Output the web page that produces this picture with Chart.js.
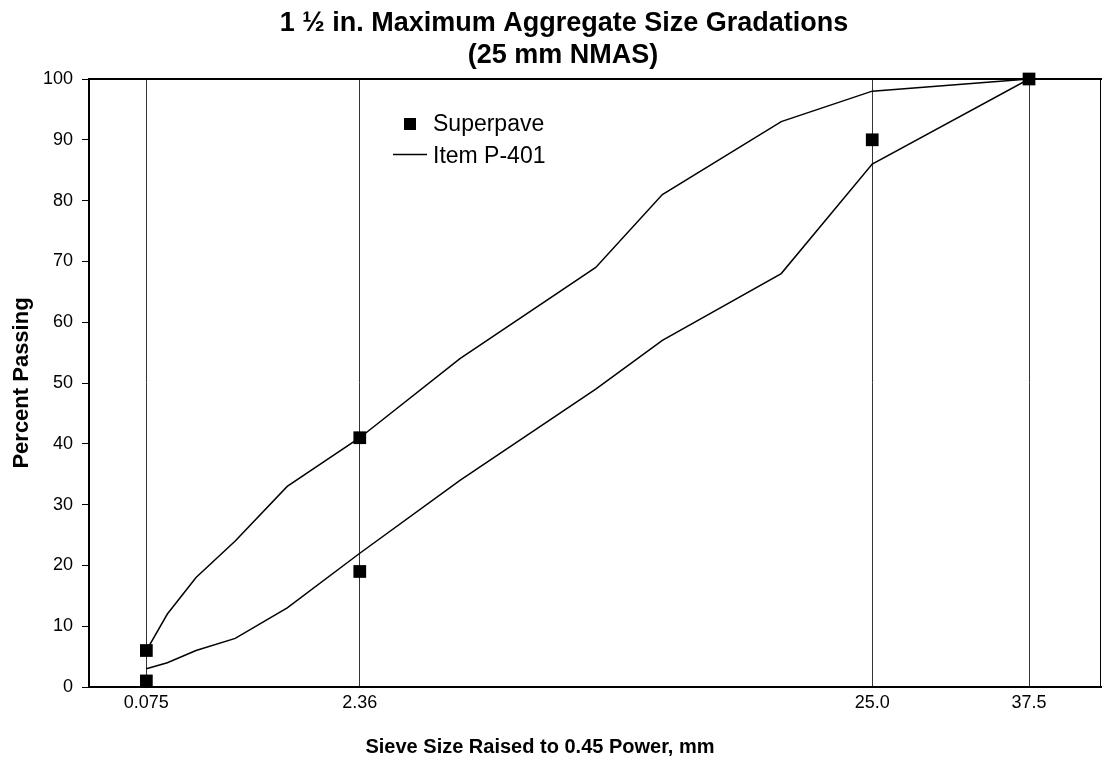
<!DOCTYPE html>
<html>
<head>
<meta charset="utf-8">
<title>Aggregate Size Gradations</title>
<script src="https://cdn.jsdelivr.net/npm/chart.js@4.4.0/dist/chart.umd.min.js"></script>
<style>
  html, body { margin: 0; padding: 0; background: #fff; overflow: hidden; }
  canvas { display: block; }
</style>
</head>
<body>
<canvas id="gradChart" width="1102" height="761"></canvas>
<script>
// Sieve sizes (mm) and Item P-401 gradation band, percent passing
const sieveSizes = [0.075, 0.15, 0.3, 0.6, 1.18, 2.36, 4.75, 9.5, 12.5, 19.0, 25.0, 37.5];
const p401Upper = [6, 12, 18, 24, 33, 41, 54, 69, 81, 93, 98, 100];
const p401Lower = [3, 4, 6, 8, 13, 22, 34, 49, 57, 68, 86, 100];

// Superpave control points
const controlSizes = [0.075, 0.075, 2.36, 2.36, 25.0, 37.5];
const controlPassing = [1, 6, 19, 41, 90, 100];

// Labelled sieves on the x axis
const tickSizes = [0.075, 2.36, 25.0, 37.5];
const tickLabels = ["0.075", "2.36", "25.0", "37.5"];

const FONT = "'Liberation Sans', Arial, sans-serif";
const POWER = 0.45;

// x axis is sieve size raised to the 0.45 power
const toX = size => Math.pow(size, POWER);
const points = (sizes, values) => sizes.map((s, i) => ({ x: toX(s), y: values[i] }));

// Frame (top/right edges), titles and the in-plot legend
const decorations = {
    id: "decorations",
    beforeDatasetsDraw(chart) {
        const { ctx, chartArea: a } = chart;
        ctx.save();
        ctx.strokeStyle = "#000";
        ctx.lineWidth = 2;
        ctx.beginPath();
        ctx.moveTo(a.left - 1, a.top);
        ctx.lineTo(a.right + 1, a.top);
        ctx.stroke();
        ctx.lineWidth = 1;
        ctx.beginPath();
        ctx.moveTo(a.right - 0.5, a.top);
        ctx.lineTo(a.right - 0.5, a.bottom);
        ctx.stroke();
        ctx.restore();
    },
    afterDraw(chart) {
        const ctx = chart.ctx;
        ctx.save();
        ctx.fillStyle = "#000";
        ctx.textAlign = "center";
        ctx.textBaseline = "alphabetic";

        ctx.font = "bold 27px " + FONT;
        ctx.fillText("1 \u00bd in. Maximum Aggregate Size Gradations", 564, 31);
        ctx.fillText("(25 mm NMAS)", 563, 63);

        ctx.font = "bold 20px " + FONT;
        ctx.fillText("Sieve Size Raised to 0.45 Power, mm", 540, 753);

        ctx.save();
        ctx.translate(28, 383);
        ctx.rotate(-Math.PI / 2);
        ctx.font = "bold 22px " + FONT;
        ctx.fillText("Percent Passing", 0, 0);
        ctx.restore();

        // legend
        ctx.fillRect(404, 118, 12, 12);
        ctx.strokeStyle = "#000";
        ctx.lineWidth = 1.5;
        ctx.beginPath();
        ctx.moveTo(393, 154.5);
        ctx.lineTo(427, 154.5);
        ctx.stroke();
        ctx.textAlign = "left";
        ctx.font = "23px " + FONT;
        ctx.fillText("Superpave", 433, 131);
        ctx.fillText("Item P-401", 433, 163);
        ctx.restore();
    }
};

new Chart(document.getElementById("gradChart"), {
    type: "scatter",
    data: {
        datasets: [
            {
                label: "Superpave",
                data: points(controlSizes, controlPassing),
                pointStyle: "rect",
                pointRadius: 9,
                pointHoverRadius: 9,
                backgroundColor: "#000",
                borderWidth: 0,
                showLine: false,
                clip: false
            },
            {
                label: "Item P-401",
                data: points(sieveSizes, p401Upper),
                showLine: true,
                borderColor: "#000",
                borderWidth: 1.5,
                pointRadius: 0,
                tension: 0
            },
            {
                label: "Item P-401 (lower)",
                data: points(sieveSizes, p401Lower),
                showLine: true,
                borderColor: "#000",
                borderWidth: 1.5,
                pointRadius: 0,
                tension: 0
            }
        ]
    },
    options: {
        responsive: false,
        animation: false,
        devicePixelRatio: 1,
        layout: { autoPadding: false, padding: { top: 79, right: 1, left: 0, bottom: 0 } },
        plugins: {
            legend: { display: false },
            title: { display: false },
            tooltip: { enabled: false }
        },
        scales: {
            x: {
                type: "linear",
                min: 0,
                max: 5.5,
                afterBuildTicks: scale => {
                    scale.ticks = tickSizes.map(s => ({ value: toX(s) }));
                },
                afterFit: scale => {
                    scale.height = 74;
                    scale.paddingLeft = 0;
                    scale.paddingRight = 0;
                },
                ticks: {
                    callback: (v, i) => tickLabels[i],
                    autoSkip: false,
                    maxRotation: 0,
                    padding: 5,
                    color: "#000",
                    font: { family: FONT, size: 18 }
                },
                grid: { color: "#333", lineWidth: 1, drawTicks: false },
                border: { color: "#000", width: 2 }
            },
            y: {
                min: 0,
                max: 100,
                afterFit: scale => {
                    scale.width = 89;
                    scale.paddingTop = 0;
                    scale.paddingBottom = 0;
                },
                ticks: {
                    stepSize: 10,
                    padding: 9,
                    color: "#000",
                    font: { family: FONT, size: 18 }
                },
                grid: { drawOnChartArea: false, drawTicks: true, tickLength: 7, color: "#000", lineWidth: 1 },
                border: { color: "#000", width: 2 }
            }
        }
    },
    plugins: [decorations]
});
</script>
</body>
</html>
